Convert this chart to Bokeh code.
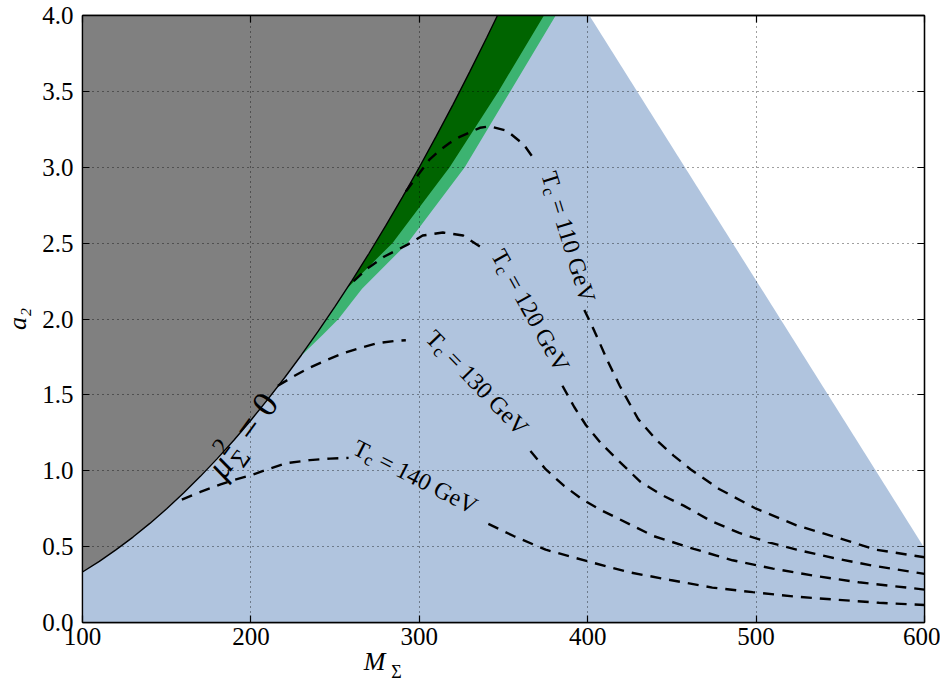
import math
from bokeh.plotting import figure
from bokeh.models import FixedTicker, PrintfTickFormatter, LinearAxis, Label
from bokeh.core.properties import value
from bokeh.embed import file_html
from bokeh.resources import INLINE

# ---------------- data ----------------
x_ticks = [100, 200, 300, 400, 500, 600]
y_ticks = [0.0, 0.5, 1.0, 1.5, 2.0, 2.5, 3.0, 3.5, 4.0]

# mu_Sigma^2 = 0 boundary (gray region above/left)
mu_M = [100, 110, 120, 130, 140, 150, 160, 170, 180, 190, 200, 210, 220,
        230, 240, 250, 260, 270, 280, 290, 300, 310, 320, 330, 340, 346.4]
mu_a2 = [0.333, 0.403, 0.480, 0.563, 0.653, 0.750, 0.853, 0.963, 1.080,
         1.203, 1.333, 1.470, 1.613, 1.763, 1.920, 2.083, 2.253, 2.430,
         2.613, 2.803, 3.000, 3.203, 3.413, 3.630, 3.853, 4.000]

# green bands (given as M edges at a2 levels)
band_a2 = [1.75, 1.9, 2.0, 2.2, 2.5, 3.0, 3.5, 4.0]
band_mu = [229.1, 238.7, 244.9, 256.9, 273.9, 300.0, 324.0, 346.4]
band_dark = [229.1, 238.7, 244.9, 256.9, 284.0, 318.0, 347.0, 374.0]
band_light = [229.1, 243.0, 252.0, 266.0, 293.0, 327.0, 354.0, 381.0]

# edge of the allowed (blue) region
blue_edge_M = [401, 600]
blue_edge_a2 = [4.0, 0.49]

# Tc contours (two pieces each, broken by the inline label)
tc110_a_M = [292, 300, 306, 312, 318, 324, 330, 336, 342, 352, 362, 369]
tc110_a_a2 = [2.84, 2.96, 3.05, 3.11, 3.16, 3.20, 3.23, 3.26, 3.27, 3.24, 3.15, 3.04]
tc110_b_M = [398, 404, 412, 419, 430, 441, 451, 461, 478, 500, 524, 548, 571, 600]
tc110_b_a2 = [2.06, 1.92, 1.72, 1.56, 1.34, 1.20, 1.10, 1.01, 0.88, 0.75, 0.64, 0.56, 0.48, 0.43]

tc120_a_M = [261, 270, 279, 293, 302, 314, 326, 337]
tc120_a_a2 = [2.25, 2.34, 2.41, 2.49, 2.55, 2.57, 2.55, 2.47]
tc120_b_M = [385, 392, 399, 408, 417, 431, 444, 457, 473, 490, 507, 524, 546, 569, 600]
tc120_b_a2 = [1.56, 1.42, 1.30, 1.18, 1.08, 0.93, 0.84, 0.77, 0.67, 0.59, 0.53, 0.48, 0.425, 0.375, 0.32]

tc130_a_M = [216, 225, 235, 245, 255, 265, 275, 285, 292]
tc130_a_a2 = [1.56, 1.62, 1.68, 1.73, 1.775, 1.81, 1.84, 1.855, 1.86]
tc130_b_M = [366, 375, 386, 397, 408, 419, 439, 463, 486, 510, 536, 561, 600]
tc130_b_a2 = [1.13, 1.01, 0.90, 0.81, 0.74, 0.68, 0.57, 0.485, 0.41, 0.355, 0.305, 0.265, 0.217]

tc140_a_M = [159, 170, 182, 190, 200, 210, 221, 235, 247, 258]
tc140_a_a2 = [0.81, 0.86, 0.91, 0.94, 0.97, 1.01, 1.05, 1.07, 1.08, 1.085]
tc140_b_M = [341, 356, 375, 401, 425, 449, 474, 498, 524, 548, 573, 600]
tc140_b_a2 = [0.65, 0.57, 0.48, 0.40, 0.33, 0.28, 0.23, 0.20, 0.17, 0.15, 0.13, 0.115]

tc_values = [110, 120, 130, 140]
tc_label_M = [388.6, 366.0, 334.4, 297.7]
tc_label_a2 = [2.54, 2.056, 1.58, 0.96]
tc_label_deg = [-73, -61, -46, -27]

# ---------------- figure ----------------
FW, FH = 842, 607
X0, X1, Y0, Y1 = 100, 600, 0, 4
SX = FW / (X1 - X0)
SY = FH / (Y1 - Y0)
FONT = "Liberation Serif"


def shift(x, y, dx, dy):
    """move a data point by screen pixels (dy positive = down)"""
    return x + dx / SX, y - dy / SY


p = figure(frame_width=FW, frame_height=FH, x_range=(X0, X1), y_range=(Y0, Y1),
           output_backend="svg", toolbar_location=None,
           min_border_left=82, min_border_right=16, min_border_top=15,
           min_border_bottom=60, background_fill_color="white",
           border_fill_color="white")
p.outline_line_color = "black"
p.outline_line_width = 1.3

# allowed region
p.patch(x=[X0, blue_edge_M[0], blue_edge_M[1], X1, X0],
        y=[Y1, blue_edge_a2[0], blue_edge_a2[1], Y0, Y0],
        fill_color="#B0C4DE", line_color=None)

# green bands
p.harea(y=band_a2, x1=band_mu, x2=band_light, fill_color="#3CB371")
p.harea(y=band_a2, x1=band_mu, x2=band_dark, fill_color="#006400")

# gray excluded region
p.patch(x=mu_M + [X0], y=mu_a2 + [Y1], fill_color="#808080", line_color=None)
p.line(mu_M, mu_a2, line_color="black", line_width=1.4)

# Tc contours
for xs, ys in [(tc110_a_M, tc110_a_a2), (tc110_b_M, tc110_b_a2),
               (tc120_a_M, tc120_a_a2), (tc120_b_M, tc120_b_a2),
               (tc130_a_M, tc130_a_a2), (tc130_b_M, tc130_b_a2),
               (tc140_a_M, tc140_a_a2), (tc140_b_M, tc140_b_a2)]:
    p.line(xs, ys, line_color="black", line_width=2.4, line_dash="11 8")


def put_text(x, y, text, size, angle, italic=False, align="center", baseline="middle"):
    p.text(x=[x], y=[y], text=[text], angle=angle, text_align=align,
           text_baseline=baseline, text_font_size=f"{size}px",
           text_font=value(FONT), text_color="black",
           text_font_style="italic" if italic else "normal")


# inline contour labels: "T_c = xxx GeV"
S = 24
for t, cx, cy, deg in zip(tc_values, tc_label_M, tc_label_a2, tc_label_deg):
    th = math.radians(deg)
    u = (math.cos(th), -math.sin(th))
    d = (math.sin(th), math.cos(th))
    wT, wc, gap, wr = 0.611 * S, 0.311 * S, 0.28 * S, 4.452 * S
    W = wT + wc + gap + wr
    pieces = [("T", S, wT / 2, 0.0),
              ("c", round(0.7 * S), wT + wc / 2, 0.25 * S),
              (f"= {t} GeV", S, wT + wc + gap + wr / 2, 0.0)]
    for txt, sz, a, pp in pieces:
        a -= W / 2
        x, y = shift(cx, cy, a * u[0] + pp * d[0], a * u[1] + pp * d[1])
        put_text(x, y, txt, sz, th)

# mu_Sigma^2 = 0 label
th = math.radians(54)
u = (math.cos(th), -math.sin(th))
d = (math.sin(th), math.cos(th))
bx, by = shift(179.0, 1.048, 5 * d[0], 5 * d[1])
for txt, sz, a, pp, it in [("μ", 36, 0, 0, True), ("2", 25, 17, -11, False),
                           ("Σ", 25, 19, 12, False), ("=", 36, 48, 0, False),
                           ("0", 36, 77, 0, False)]:
    x, y = shift(bx, by, a * u[0] + pp * d[0], a * u[1] + pp * d[1])
    put_text(x, y, txt, sz, th, italic=it, baseline="alphabetic")

# ---------------- axes ----------------
p.xaxis.ticker = FixedTicker(ticks=x_ticks)
p.yaxis.ticker = FixedTicker(ticks=y_ticks)
p.yaxis.formatter = PrintfTickFormatter(format="%.1f")
p.xgrid.ticker = FixedTicker(ticks=x_ticks)
p.ygrid.ticker = FixedTicker(ticks=y_ticks)

p.add_layout(LinearAxis(ticker=FixedTicker(ticks=x_ticks)), "above")
p.add_layout(LinearAxis(ticker=FixedTicker(ticks=y_ticks)), "right")

for ax in p.axis:
    ax.major_tick_in = 7
    ax.major_tick_out = 0
    ax.minor_tick_in = 0
    ax.minor_tick_out = 0
    ax.axis_line_color = "black"
    ax.axis_line_width = 1.3
    ax.major_tick_line_width = 1.2
    ax.major_label_text_font = FONT
    ax.major_label_text_font_size = "25px"
    ax.major_label_text_color = "black"
for ax in p.above + p.right:
    ax.major_label_text_font_size = "1px"
    ax.major_label_text_color = None
    ax.major_label_standoff = 0
p.xaxis[0].major_label_standoff = 6
p.yaxis[0].major_label_standoff = 9

# y axis label
ya = p.yaxis[0]
ya.axis_label = "a₂"
ya.axis_label_text_font = FONT
ya.axis_label_text_font_style = "italic"
ya.axis_label_text_font_size = "26px"
ya.axis_label_standoff = 7
ya.axis_label_text_color = "black"

# x axis label "M" with subscript Sigma (side-panel labels, canvas coordinates)
p.add_layout(Label(x=374, y=661, x_units="canvas", y_units="canvas", text="M",
                   text_font=FONT, text_font_style="italic", text_font_size="26px",
                   text_align="center", text_baseline="middle", text_color="black"),
             "below")
p.add_layout(Label(x=396, y=671, x_units="canvas", y_units="canvas", text="Σ",
                   text_font=FONT, text_font_size="18px",
                   text_align="center", text_baseline="middle", text_color="black"),
             "right")

p.grid.grid_line_color = "black"
p.grid.grid_line_alpha = 0.75
p.grid.grid_line_dash = "1 4"
p.grid.grid_line_width = 1
p.grid.level = "guide"

open("out.html", "w").write(file_html(p, INLINE))
